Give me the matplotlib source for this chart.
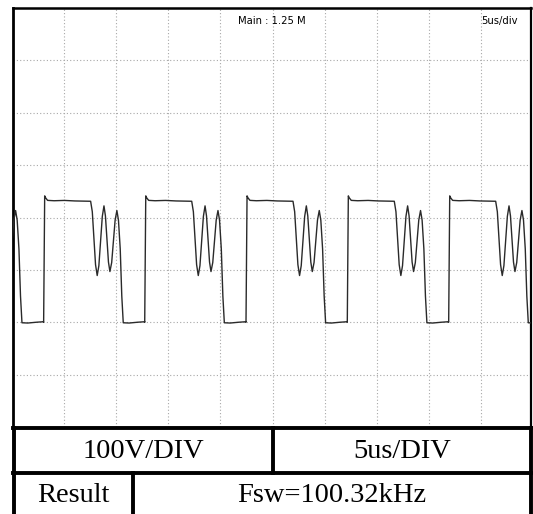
import matplotlib
matplotlib.use("Agg")
import matplotlib.pyplot as plt
from matplotlib.lines import Line2D

# --- Scope settings -------------------------------------------------------
volts_per_div = "100V/DIV"
time_per_div = "5us/DIV"
result_label = "Result"
result_text = "Fsw=100.32kHz"
scope_header = "Main : 1.25 M"
scope_timebase = "5us/div"

# Rising-edge instants of each switching cycle (us)
edge_times_us = [-6.69, 3.03, 12.73, 22.45, 32.17, 41.90]

# One switching cycle, relative to its rising edge: time (us) and drain voltage (V)
cycle_t_us = [0.00, 0.10, 0.19, 0.38, 1.00, 2.00, 3.00, 4.00, 4.51,
              4.67, 4.83, 4.98, 5.14,
              5.30, 5.47, 5.63, 5.79,
              5.93, 6.08, 6.22, 6.36,
              6.53, 6.70, 6.86, 7.03,
              7.18, 7.35, 7.50, 7.64,
              8.20, 9.00, 9.70]
cycle_v = [0.0, 241.3, 237.5, 232.7, 232.0, 232.6, 231.6, 231.2, 231.0,
           211.0, 160.0, 110.0, 89.2,
           108.0, 155.0, 202.0, 222.2,
           203.0, 159.0, 115.0, 96.8,
           114.0, 155.0, 195.0, 213.3,
           195.0, 140.0, 50.0, -1.0,
           -1.5, 0.0, 1.0]

# --- Assemble the trace ---------------------------------------------------
trace_t, trace_v = [], []
for t0 in edge_times_us:
    for dt, v in zip(cycle_t_us, cycle_v):
        trace_t.append(t0 + dt)
        trace_v.append(v)

W, H = 533, 514
fig = plt.figure(figsize=(W / 100, H / 100), dpi=100)
fig.patch.set_facecolor("white")

# Scope screen area (pixels): x 13..531, y 8..427
x0, x1, y0, y1 = 13, 531, 8, 427
ax = fig.add_axes([x0 / W, (H - y1) / H, (x1 - x0) / W, (y1 - y0) / H])
ax.set_xlim(0.09, 49.8)
ax.set_ylim(-200, 600)
ax.set_xticks(range(5, 50, 5))
ax.set_yticks(range(-100, 600, 100))
ax.tick_params(length=0, labelbottom=False, labelleft=False)
ax.grid(True, color="#a8a8a8", linestyle=(0, (1, 2)), linewidth=0.8)
ax.plot(trace_t, trace_v, color="#2a2a2a", linewidth=1.0, zorder=3)

for side, lw in (("left", 2.0), ("top", 1.8), ("right", 1.6), ("bottom", 0.0)):
    ax.spines[side].set_linewidth(lw)
    ax.spines[side].set_color("black")

narrow = ["Liberation Sans Narrow", "DejaVu Sans"]
ax.text(0.5, 0.982, scope_header, transform=ax.transAxes, ha="center", va="top",
        fontsize=7.2, family=narrow, color="black")
ax.text(0.94, 0.982, scope_timebase, transform=ax.transAxes, ha="center", va="top",
        fontsize=7.2, family=narrow, color="black")

# --- Table below the screen ----------------------------------------------
ov = fig.add_axes([0, 0, 1, 1], zorder=5)
ov.set_xlim(0, W)
ov.set_ylim(H, 0)
ov.axis("off")

lw_tab = 2.8
segments = [
    ((13, 531), (427.5, 427.5)),
    ((13, 531), (472.5, 472.5)),
    ((14, 14), (427.5, 514)),
    ((530.5, 530.5), (427.5, 514)),
    ((273, 273), (427.5, 472.5)),
    ((133, 133), (472.5, 514)),
]
for xs, ys in segments:
    ov.add_line(Line2D(xs, ys, color="black", linewidth=lw_tab, solid_capstyle="projecting"))

serif = ["Liberation Serif", "DejaVu Serif"]
ov.text(143, 451, volts_per_div, ha="center", va="center", fontsize=20.5, family=serif)
ov.text(402, 451, time_per_div, ha="center", va="center", fontsize=20.5, family=serif)
ov.text(73, 495, result_label, ha="center", va="center", fontsize=20.5, family=serif)
ov.text(332, 495, result_text, ha="center", va="center", fontsize=20.5, family=serif)

fig.savefig("out.png", dpi=100, facecolor="white")
